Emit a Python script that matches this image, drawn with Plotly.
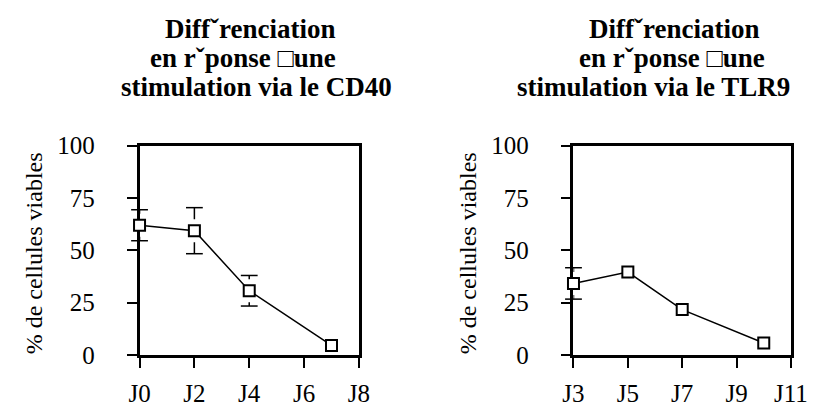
import plotly.graph_objects as go

W, H = 835, 412

# ---- data ----
cd40_x = [0, 2, 4, 7]
cd40_y = [62, 59.4, 30.7, 4.6]
cd40_err = [7.4, 11, 7.3, 0]
cd40_ticks = [0, 2, 4, 6, 8]
cd40_ticktext = ["J0", "J2", "J4", "J6", "J8"]

tlr9_x = [3, 5, 7, 10]
tlr9_y = [34.2, 39.6, 21.7, 5.7]
tlr9_err = [7.5, 0, 0, 0]
tlr9_ticks = [3, 5, 7, 9, 11]
tlr9_ticktext = ["J3", "J5", "J7", "J9", "J11"]

y_ticks = [0, 25, 50, 75, 100]

title_lines_1 = ["Diff\u02c7renciation", "en r\u02c7ponse \u25a1une", "stimulation via le CD40"]
title_lines_2 = ["Diff\u02c7renciation", "en r\u02c7ponse \u25a1une", "stimulation via le TLR9"]
y_title = "% de cellules viables"

# ---- style ----
FONT = "Liberation Serif"
ERR_GAP = 5.5  # data units: gap between marker centre and error bar start


def px(x):
    return x / W


def py(y):
    return 1 - y / H


fig = go.Figure()


def add_series(xs, ys, errs, xa, ya):
    # error bars: vertical stems (leaving a gap around the marker) + caps
    sx, sy, cx, cy = [], [], [], []
    for x, y, e in zip(xs, ys, errs):
        if e > ERR_GAP:
            sx += [x, x, None, x, x, None]
            sy += [y + ERR_GAP, y + e, None, y - ERR_GAP, y - e, None]
            cx += [x, x]
            cy += [y + e, y - e]
    fig.add_trace(go.Scatter(
        x=sx, y=sy, mode="lines", line=dict(color="black", width=1.5),
        xaxis=xa, yaxis=ya, cliponaxis=False, showlegend=False, hoverinfo="skip"))
    fig.add_trace(go.Scatter(
        x=cx, y=cy, mode="markers",
        marker=dict(symbol="line-ew", size=12, line=dict(color="black", width=1.5)),
        xaxis=xa, yaxis=ya, cliponaxis=False, showlegend=False, hoverinfo="skip"))
    fig.add_trace(go.Scatter(
        x=xs, y=ys, mode="lines+markers",
        line=dict(color="black", width=1.5),
        marker=dict(symbol="square", size=11, color="white",
                    line=dict(color="black", width=2)),
        xaxis=xa, yaxis=ya, cliponaxis=False, showlegend=False))


add_series(cd40_x, cd40_y, cd40_err, "x", "y")
add_series(tlr9_x, tlr9_y, tlr9_err, "x2", "y2")

axis_common = dict(
    showline=True, linecolor="black", linewidth=2.5, mirror=True,
    ticks="outside", ticklen=10, tickwidth=1.5, tickcolor="black",
    showgrid=False, zeroline=False, layer="below traces",
    tickfont=dict(family=FONT, size=25, color="black"),
)

ydom = [py(366), py(142)]

fig.update_layout(
    width=W, height=H, margin=dict(l=0, r=0, t=0, b=0),
    paper_bgcolor="white", plot_bgcolor="white", showlegend=False,
    xaxis=dict(axis_common, domain=[px(133), px(360)], range=[0, 8],
               tickvals=cd40_ticks, ticktext=cd40_ticktext, anchor="y",
               ticklabelstandoff=4),
    yaxis=dict(axis_common, domain=ydom, range=[0, 100], tickvals=y_ticks,
               anchor="x", ticklabelstandoff=27),
    xaxis2=dict(axis_common, domain=[px(582), px(807)], range=[3, 11],
                tickvals=tlr9_ticks, ticktext=tlr9_ticktext, anchor="y2",
                ticklabelstandoff=4),
    yaxis2=dict(axis_common, domain=ydom, range=[0, 100], tickvals=y_ticks,
                anchor="x2", ticklabelstandoff=27),
)

ann = []
title_font = dict(family=FONT, size=27, color="black")
line_y = [17, 48, 79]
centers_1 = [247, 240, 254]
centers_2 = [686, 684, 665]
for lines, centers in ((title_lines_1, centers_1), (title_lines_2, centers_2)):
    for t, cx, cy in zip(lines, centers, line_y):
        ann.append(dict(text="<b>" + t + "</b>", x=px(cx), y=py(cy), xref="paper", yref="paper",
                        showarrow=False, xanchor="center", yanchor="middle", font=title_font))
for cx in (24, 473):
    ann.append(dict(text=y_title, x=px(cx), y=py(257), xref="paper", yref="paper",
                    showarrow=False, textangle=-90, xanchor="center", yanchor="middle",
                    font=dict(family=FONT, size=24, color="black")))
fig.update_layout(annotations=ann)

fig.write_html("out.html")
